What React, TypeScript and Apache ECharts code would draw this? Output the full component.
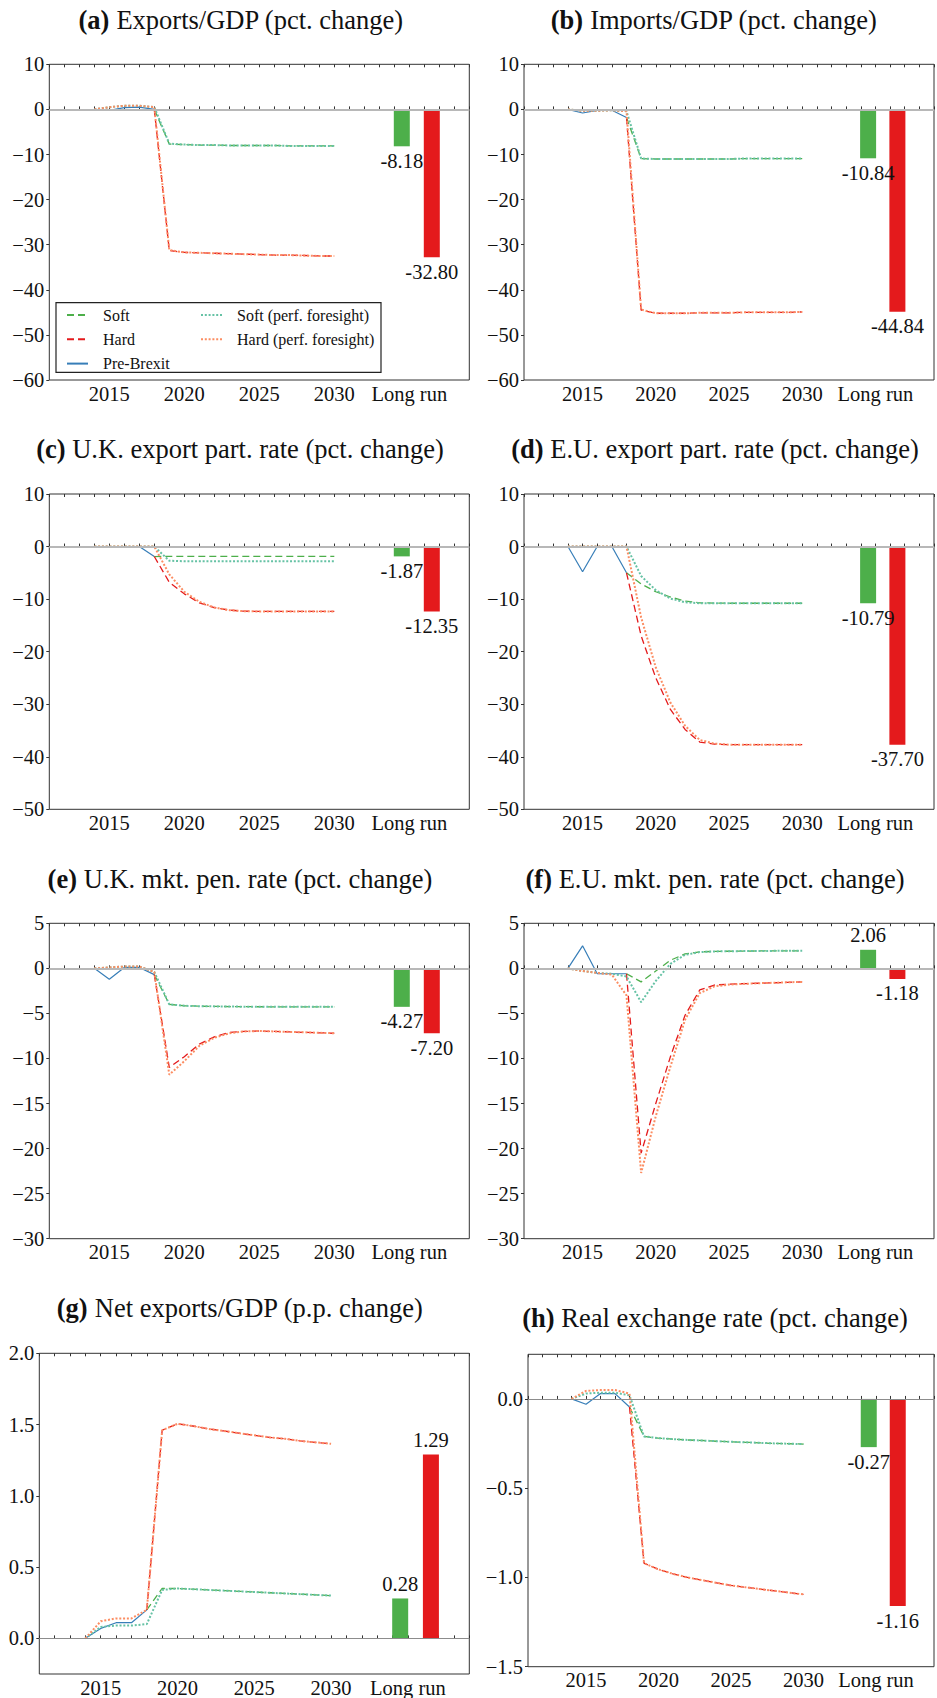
import React, { useEffect, useRef } from 'react';
import * as echarts from 'echarts';

// ---------- data ----------
const yearsPF = [2014, 2015, 2016, 2017, 2018, 2019, 2020, 2021, 2022, 2023, 2024, 2025, 2026, 2027, 2028, 2029, 2030];
const yearsPre = [2014, 2015, 2016, 2017, 2018];
const yearsPost = [2018, 2019, 2020, 2021, 2022, 2023, 2024, 2025, 2026, 2027, 2028, 2029, 2030];
const longRunX = [2034.5, 2036.5];
const xTickValues = [2015, 2020, 2025, 2030, 2035];
const xTickLabels = ['2015', '2020', '2025', '2030', 'Long run'];
const seriesNames = ['Soft', 'Hard', 'Pre-Brexit', 'Soft (perf. foresight)', 'Hard (perf. foresight)'];
const panelLetters = ['(a)', '(b)', '(c)', '(d)', '(e)', '(f)', '(g)', '(h)'];
const panelTitles = [
  'Exports/GDP (pct. change)',
  'Imports/GDP (pct. change)',
  'U.K. export part. rate (pct. change)',
  'E.U. export part. rate (pct. change)',
  'U.K. mkt. pen. rate (pct. change)',
  'E.U. mkt. pen. rate (pct. change)',
  'Net exports/GDP (p.p. change)',
  'Real exchange rate (pct. change)',
];

// (a) Exports/GDP
const aPre = [0, -0.2, 0.4, 0.5, 0.0];
const aSoft = [0.0, -7.7, -7.8, -7.9, -7.9, -8.0, -8.0, -8.0, -8.0, -8.1, -8.1, -8.1, -8.1];
const aHard = [0.0, -31.3, -31.7, -31.8, -31.9, -32.0, -32.1, -32.2, -32.3, -32.3, -32.4, -32.5, -32.5];
const aSoftPF = [0.0, 0.5, 0.8, 0.8, 0.5, -7.6, -7.8, -7.9, -7.9, -8.0, -8.0, -8.0, -8.0, -8.1, -8.1, -8.1, -8.1];
const aHardPF = [0.0, 0.5, 0.8, 0.8, 0.5, -31.2, -31.7, -31.8, -31.9, -32.0, -32.1, -32.2, -32.3, -32.3, -32.4, -32.5, -32.5];
const aBars = [-8.18, -32.8];

// (b) Imports/GDP
const bPre = [0, -0.8, -0.2, -0.2, -1.8];
const bSoft = [-1.8, -10.9, -11.0, -11.0, -11.0, -11.0, -11.0, -11.0, -10.9, -10.9, -10.9, -10.9, -10.9];
const bHard = [-1.8, -44.5, -45.2, -45.2, -45.2, -45.1, -45.1, -45.1, -45.0, -45.0, -45.0, -45.0, -44.9];
const bSoftPF = [0, -0.3, -0.3, -0.2, -0.4, -10.9, -11.0, -11.0, -11.0, -11.0, -11.0, -11.0, -10.9, -10.9, -10.9, -10.9, -10.9];
const bHardPF = [0, -0.3, -0.3, -0.2, -0.4, -44.4, -45.2, -45.2, -45.2, -45.1, -45.1, -45.1, -45.0, -45.0, -45.0, -45.0, -44.9];
const bBars = [-10.84, -44.84];

// (c) U.K. export participation rate
const cPre = [0, 0, 0, 0, -1.9];
const cSoft = [-1.9, -1.87, -1.87, -1.87, -1.87, -1.87, -1.87, -1.87, -1.87, -1.87, -1.87, -1.87, -1.87];
const cHard = [-1.9, -6.8, -9.0, -10.7, -11.6, -12.1, -12.3, -12.35, -12.35, -12.35, -12.35, -12.35, -12.35];
const cSoftPF = [0, 0, 0, 0, 0, -2.7, -2.8, -2.8, -2.8, -2.8, -2.8, -2.8, -2.8, -2.8, -2.8, -2.8, -2.8];
const cHardPF = [0, 0, 0, 0, 0, -5.3, -8.6, -10.5, -11.6, -12.1, -12.3, -12.35, -12.35, -12.35, -12.35, -12.35, -12.35];
const cBars = [-1.87, -12.35];

// (d) E.U. export participation rate
const dPre = [0, -4.8, 0, 0, -5.0];
const dSoft = [-5.0, -7.1, -8.6, -9.6, -10.4, -10.7, -10.75, -10.79, -10.79, -10.79, -10.79, -10.79, -10.79];
const dHard = [-5.0, -17.0, -25.0, -31.0, -34.8, -37.2, -37.6, -37.7, -37.7, -37.7, -37.7, -37.7, -37.7];
const dSoftPF = [0, 0, 0, 0, 0, -5.6, -8.3, -9.9, -10.6, -10.8, -10.8, -10.8, -10.8, -10.8, -10.8, -10.8, -10.8];
const dHardPF = [0, 0, 0, 0, 0, -13.5, -23.0, -29.7, -34.1, -36.8, -37.5, -37.7, -37.7, -37.7, -37.7, -37.7, -37.7];
const dBars = [-10.79, -37.7];

// (e) U.K. market penetration rate
const ePre = [0, -1.2, 0.1, 0.1, -0.7];
const eSoft = [-0.7, -4.0, -4.15, -4.2, -4.22, -4.24, -4.25, -4.26, -4.27, -4.27, -4.27, -4.27, -4.27];
const eHard = [-0.7, -11.0, -9.8, -8.4, -7.6, -7.1, -7.0, -6.95, -7.0, -7.05, -7.1, -7.15, -7.2];
const eSoftPF = [0, 0.1, 0.2, 0.2, -0.4, -4.0, -4.15, -4.2, -4.22, -4.24, -4.25, -4.26, -4.27, -4.27, -4.27, -4.27, -4.27];
const eHardPF = [0, 0.1, 0.2, 0.2, -0.4, -11.8, -10.3, -8.6, -7.7, -7.2, -7.0, -6.95, -7.0, -7.05, -7.1, -7.15, -7.2];
const eBars = [-4.27, -7.2];

// (f) E.U. market penetration rate
const fPre = [0, 2.5, -0.6, -0.6, -0.6];
const fSoft = [-0.6, -1.5, -0.3, 0.9, 1.6, 1.83, 1.88, 1.9, 1.92, 1.93, 1.94, 1.95, 1.95];
const fHard = [-0.6, -20.5, -15.0, -9.8, -5.2, -2.4, -1.85, -1.75, -1.7, -1.65, -1.6, -1.55, -1.5];
const fSoftPF = [0, -0.3, -0.5, -0.6, -0.9, -3.75, -1.4, 0.5, 1.5, 1.8, 1.88, 1.9, 1.92, 1.93, 1.94, 1.95, 1.95];
const fHardPF = [0, -0.3, -0.5, -0.7, -3.0, -22.7, -16.4, -10.9, -5.7, -2.75, -2.0, -1.8, -1.72, -1.65, -1.6, -1.55, -1.5];
const fBars = [2.06, -1.18];

// (g) Net exports/GDP
const gPre = [0, 0.07, 0.11, 0.11, 0.2];
const gSoft = [0.2, 0.35, 0.35, 0.345, 0.34, 0.335, 0.33, 0.325, 0.32, 0.315, 0.31, 0.305, 0.3];
const gHard = [0.2, 1.46, 1.505, 1.49, 1.47, 1.455, 1.44, 1.425, 1.41, 1.4, 1.385, 1.375, 1.365];
const gSoftPF = [0, 0.08, 0.09, 0.09, 0.1, 0.34, 0.35, 0.345, 0.34, 0.335, 0.33, 0.325, 0.32, 0.315, 0.31, 0.305, 0.3];
const gHardPF = [0, 0.12, 0.14, 0.14, 0.2, 1.46, 1.505, 1.49, 1.47, 1.455, 1.44, 1.425, 1.41, 1.4, 1.385, 1.375, 1.365];
const gBars = [0.28, 1.29];

// (h) Real exchange rate
const hPre = [0, -0.03, 0.03, 0.03, -0.045];
const hSoft = [-0.045, -0.21, -0.22, -0.225, -0.23, -0.233, -0.237, -0.24, -0.243, -0.246, -0.249, -0.251, -0.253];
const hHard = [-0.045, -0.92, -0.955, -0.98, -1.0, -1.015, -1.03, -1.045, -1.055, -1.065, -1.075, -1.085, -1.095];
const hSoftPF = [0, 0.03, 0.035, 0.035, 0.02, -0.21, -0.22, -0.225, -0.23, -0.233, -0.237, -0.24, -0.243, -0.246, -0.249, -0.251, -0.253];
const hHardPF = [0, 0.045, 0.05, 0.05, 0.03, -0.92, -0.955, -0.98, -1.0, -1.015, -1.03, -1.045, -1.055, -1.065, -1.075, -1.085, -1.095];
const hBars = [-0.27, -1.16];

// y-axis scales per panel
const yMins = [-60, -60, -50, -50, -30, -30, -0.25, -1.5];
const yMaxs = [10, 10, 10, 10, 5, 5, 2.0, 0.25];
const yIntervals = [10, 10, 10, 10, 5, 5, 0.25, 0.25];
const yLabelValues = [
  [-60, -50, -40, -30, -20, -10, 0, 10],
  [-60, -50, -40, -30, -20, -10, 0, 10],
  [-50, -40, -30, -20, -10, 0, 10],
  [-50, -40, -30, -20, -10, 0, 10],
  [-30, -25, -20, -15, -10, -5, 0, 5],
  [-30, -25, -20, -15, -10, -5, 0, 5],
  [0, 0.5, 1.0, 1.5, 2.0],
  [-1.5, -1.0, -0.5, 0],
];
const yDecimals = [0, 0, 0, 0, 0, 0, 1, 1];

const preData = [aPre, bPre, cPre, dPre, ePre, fPre, gPre, hPre];
const softData = [aSoft, bSoft, cSoft, dSoft, eSoft, fSoft, gSoft, hSoft];
const hardData = [aHard, bHard, cHard, dHard, eHard, fHard, gHard, hHard];
const softPFData = [aSoftPF, bSoftPF, cSoftPF, dSoftPF, eSoftPF, fSoftPF, gSoftPF, hSoftPF];
const hardPFData = [aHardPF, bHardPF, cHardPF, dHardPF, eHardPF, fHardPF, gHardPF, hHardPF];
const barData = [aBars, bBars, cBars, dBars, eBars, fBars, gBars, hBars];

// ---------- layout & style ----------
const FONT = "'Liberation Serif', 'DejaVu Serif', serif";
const GREEN = '#4daf4a';
const RED = '#e41a1c';
const BLUE = '#377eb8';
const TEAL = '#66c2a5';
const ORANGE = '#fc8d62';
const TXT = '#111';
const TICK_FS = 20.5;

const grids = [
  { left: 49.3, top: 64.3, width: 420, height: 315.7 },
  { left: 524, top: 64.3, width: 420, height: 315.7 },
  { left: 49.3, top: 494, width: 420, height: 315.3 },
  { left: 524, top: 494, width: 420, height: 315.3 },
  { left: 49.3, top: 923.3, width: 420, height: 315.4 },
  { left: 524, top: 923.3, width: 420, height: 315.4 },
  { left: 39.3, top: 1353.3, width: 430, height: 322.7 },
  { left: 528, top: 1354.3, width: 416.6, height: 312.4 },
];
const titlePos = [
  [241, 20], [714, 20], [240, 449], [715, 449], [240, 879], [715, 879], [240, 1308], [715, 1318],
];

const zip = (xs: number[], ys: number[]) => xs.map((x, i) => [x, ys[i]]);

function buildOption() {
  const series: any[] = [];
  const xAxis: any[] = [];
  const yAxis: any[] = [];
  const title: any[] = [];

  for (let i = 0; i < 8; i++) {
    const dec = yDecimals[i];
    title.push({
      text: `{b|${panelLetters[i]}} ${panelTitles[i]}`,
      left: titlePos[i][0],
      top: titlePos[i][1],
      textAlign: 'center',
      textVerticalAlign: 'middle',
      padding: 0,
      textStyle: {
        fontFamily: FONT,
        fontSize: 26.5,
        fontWeight: 'normal',
        color: TXT,
        rich: { b: { fontFamily: FONT, fontSize: 26.5, fontWeight: 'bold', color: TXT } },
      },
    });

    xAxis.push({
      type: 'value',
      gridIndex: i,
      position: 'bottom',
      min: 2011,
      max: 2039,
      interval: 1,
      axisLine: { show: false },
      splitLine: { show: false },
      axisTick: { show: true, inside: true, length: 3, lineStyle: { color: '#333', width: 1 } },
      axisLabel: {
        show: true,
        margin: 3,
        fontFamily: FONT,
        fontSize: TICK_FS,
        color: TXT,
        formatter: (v: number) => {
          const k = xTickValues.indexOf(Math.round(v));
          return k >= 0 && Math.abs(v - Math.round(v)) < 1e-6 ? xTickLabels[k] : '';
        },
      },
    });
    xAxis.push({
      type: 'value',
      gridIndex: i,
      position: 'top',
      min: 2011,
      max: 2039,
      interval: 1,
      axisLine: { show: false },
      splitLine: { show: false },
      axisTick: { show: true, inside: true, length: 3, lineStyle: { color: '#333', width: 1 } },
      axisLabel: { show: false },
    });
    yAxis.push({
      type: 'value',
      gridIndex: i,
      min: yMins[i],
      max: yMaxs[i],
      interval: yIntervals[i],
      axisLine: { show: false },
      splitLine: { show: false },
      axisTick: { show: true, inside: false, length: 3, customValues: yLabelValues[i], lineStyle: { color: '#333' } },
      axisLabel: {
        show: true,
        margin: 5,
        fontFamily: FONT,
        fontSize: TICK_FS,
        color: TXT,
        customValues: yLabelValues[i],
        formatter: (v: number) => {
          const ok = yLabelValues[i].some((t) => Math.abs(t - v) < 1e-6);
          if (!ok) return '';
          const s = Math.abs(v).toFixed(dec);
          return (v < -1e-9 ? '\u2212' : '') + s;
        },
      },
    });

    const xi = 2 * i;
    const thinZero = i >= 6;
    series.push({
      type: 'bar',
      name: 'Long run',
      xAxisIndex: xi,
      yAxisIndex: i,
      barWidth: 16,
      silent: true,
      data: barData[i].map((v, k) => ({
        value: [longRunX[k], v],
        itemStyle: { color: k === 0 ? GREEN : RED },
        label: {
          show: true,
          position: v < 0 ? 'bottom' : 'top',
          distance: 4,
          fontFamily: FONT,
          fontSize: TICK_FS,
          color: TXT,
          formatter: () => v.toFixed(2),
        },
      })),
      markLine: {
        silent: true,
        symbol: 'none',
        label: { show: false },
        lineStyle: { color: thinZero ? '#8c8c8c' : '#b8b8b8', width: thinZero ? 1 : 2, type: 'solid' },
        data: [{ yAxis: 0 }],
      },
    });

    const common = { type: 'line', xAxisIndex: xi, yAxisIndex: i, symbol: 'none', silent: true };
    series.push({
      ...common,
      name: seriesNames[2],
      color: BLUE,
      data: zip(yearsPre, preData[i]),
      lineStyle: { color: BLUE, width: 1.2, type: 'solid' },
    });
    series.push({
      ...common,
      name: seriesNames[0],
      color: GREEN,
      data: zip(yearsPost, softData[i]),
      lineStyle: { color: GREEN, width: 1.3, type: [7, 4] },
    });
    series.push({
      ...common,
      name: seriesNames[1],
      color: RED,
      data: zip(yearsPost, hardData[i]),
      lineStyle: { color: RED, width: 1.3, type: [7, 4] },
    });
    series.push({
      ...common,
      name: seriesNames[3],
      color: TEAL,
      data: zip(yearsPF, softPFData[i]),
      lineStyle: { color: TEAL, width: 2, type: [2, 1.8] },
    });
    series.push({
      ...common,
      name: seriesNames[4],
      color: ORANGE,
      data: zip(yearsPF, hardPFData[i]),
      lineStyle: { color: ORANGE, width: 2, type: [2, 1.8] },
    });
  }

  const legendCommon = {
    orient: 'vertical',
    top: 307,
    itemWidth: 21,
    itemHeight: 14,
    itemGap: 8.3,
    padding: 0,
    selectedMode: false,
    itemStyle: { color: 'rgba(0,0,0,0)', borderColor: 'rgba(0,0,0,0)', borderWidth: 0, opacity: 0 },
    textStyle: { fontFamily: FONT, fontSize: 16, color: TXT, padding: [0, 0, 0, 10], lineHeight: 14 },
  };

  return {
    animation: false,
    backgroundColor: '#fff',
    title,
    grid: grids.map((g) => ({ ...g, show: true, borderColor: '#333', borderWidth: 1, backgroundColor: 'transparent' })),
    xAxis,
    yAxis,
    series,
    legend: [
      { ...legendCommon, left: 66, data: [seriesNames[0], seriesNames[1], seriesNames[2]] },
      { ...legendCommon, left: 200, data: [seriesNames[3], seriesNames[4]] },
    ],
    graphic: [
      {
        type: 'rect',
        z: 3,
        shape: { x: 56, y: 302.7, width: 325, height: 69.7 },
        style: { fill: '#fff', stroke: '#222', lineWidth: 1.2 },
      },
    ],
  };
}

export default function App() {
  const ref = useRef<HTMLDivElement>(null);
  useEffect(() => {
    if (!ref.current) return;
    const chart = echarts.init(ref.current, null, { renderer: 'svg' });
    chart.setOption(buildOption() as any);
    return () => chart.dispose();
  }, []);
  return (
    <div
      ref={ref}
      style={{ position: 'absolute', left: 0, top: 0, width: 937, height: 1698, background: '#fff' }}
    />
  );
}
